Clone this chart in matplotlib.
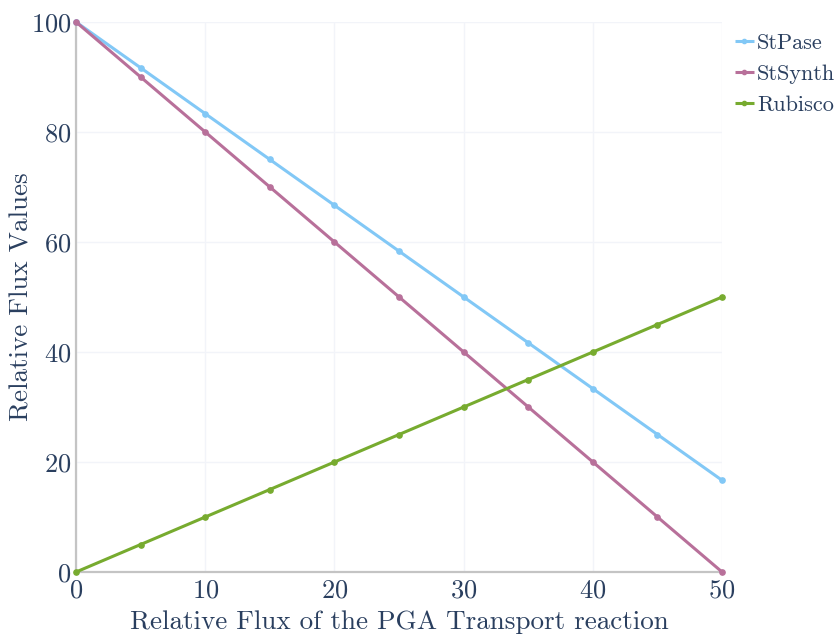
import numpy as np
import matplotlib.pyplot as plt

# data
x_flux = [0, 5, 10, 15, 20, 25, 30, 35, 40, 45, 50]
stpase = [100, 91.67, 83.33, 75, 66.67, 58.33, 50, 41.67, 33.33, 25, 16.67]
stsynth = [100, 90, 80, 70, 60, 50, 40, 30, 20, 10, 0]
rubisco = [0, 5, 10, 15, 20, 25, 30, 35, 40, 45, 50]

series = [
    ("StPase", stpase, "#82c8f6"),
    ("StSynth", stsynth, "#b8709a"),
    ("Rubisco", rubisco, "#77ab2f"),
]

plt.rcParams['font.family'] = ['cmr10', 'DejaVu Serif']
plt.rcParams['axes.formatter.use_mathtext'] = True
text_col = "#2a3f5f"

fig = plt.figure(figsize=(8.38, 6.37), dpi=100)
ax = fig.add_axes([0.0907, 0.102, 0.771, 0.8635])

for name, vals, col in series:
    ax.plot(x_flux, vals, color=col, lw=2.2, marker='o', ms=3.8, label=name,
            solid_capstyle='butt', clip_on=False, zorder=3)

ax.set_xlim(0, 50)
ax.set_ylim(0, 100)
ax.set_xticks([0, 10, 20, 30, 40, 50])
ax.set_yticks([0, 20, 40, 60, 80, 100])
ax.grid(True, color="#f2f4f9", lw=1)
ax.set_axisbelow(True)
for s in ['top', 'right']:
    ax.spines[s].set_visible(False)
for s in ['left', 'bottom']:
    ax.spines[s].set_color("#c4c4c4")
    ax.spines[s].set_linewidth(1.6)
ax.tick_params(length=0, labelsize=19, labelcolor=text_col)
ax.tick_params(axis='x', pad=5)

ax.set_xlabel("Relative Flux of the PGA Transport reaction", fontsize=19.5,
              color=text_col, va='center')
ax.set_ylabel("Relative Flux Values", fontsize=19.5, color=text_col,
              va='center')
ax.xaxis.set_label_coords(0.5, -0.091)
ax.yaxis.set_label_coords(-0.084, 0.5)

leg = fig.legend(loc='upper left', bbox_to_anchor=(735 / 838, 1 - 33 / 637),
                 frameon=False, fontsize=16, handlelength=0.85,
                 handletextpad=0.15, labelspacing=0.52, borderpad=0,
                 borderaxespad=0, markerscale=0.8)
for t in leg.get_texts():
    t.set_color(text_col)

fig.savefig("out.png", dpi=100)
